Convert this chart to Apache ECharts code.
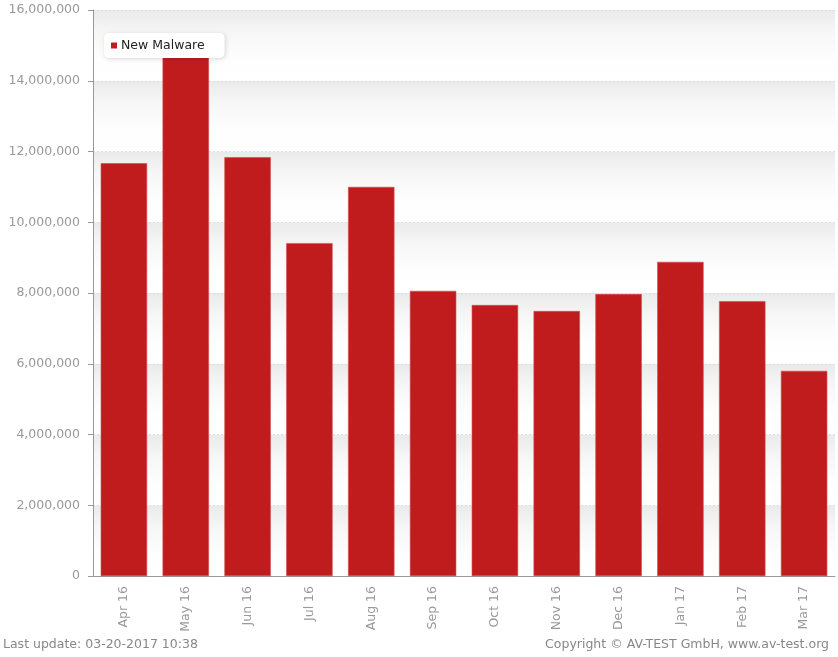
<!DOCTYPE html>
<html>
<head>
<meta charset="utf-8">
<script src="https://cdn.jsdelivr.net/npm/echarts@6/dist/echarts.min.js"></script>
<style>
html,body{margin:0;padding:0;background:#fff;}
#c{width:838px;height:657px;}
</style>
</head>
<body>
<div id="c"></div>
<script>
const categories = ["Apr 16","May 16","Jun 16","Jul 16","Aug 16","Sep 16","Oct 16","Nov 16","Dec 16","Jan 17","Feb 17","Mar 17"];
const newMalware = [11670000,14670000,11840000,9410000,11000000,8060000,7660000,7490000,7970000,8880000,7770000,5800000];
const seriesName = "New Malware";
const footerLeft = "Last update: 03-20-2017 10:38";
const footerRight = "Copyright \u00A9 AV-TEST GmbH, www.av-test.org";

const chart = echarts.init(document.getElementById('c'));
const band = new echarts.graphic.LinearGradient(0,0,0,1,[
  {offset:0,color:'#eaeaea'},{offset:0.3,color:'#f6f6f6'},{offset:0.7,color:'#fefefe'},{offset:1,color:'#ffffff'}
]);
chart.setOption({
  animation:false,
  textStyle:{fontFamily:'DejaVu Sans'},
  grid:{left:93,top:10,right:3,bottom:81,containLabel:false},
  legend:{
    left:104, top:33, orient:'horizontal',
    data:[seriesName],
    icon:'rect', itemWidth:6, itemHeight:6, itemGap:5,
    itemStyle:{borderWidth:0, color:'#c11c1d'},
    backgroundColor:'#fff', borderRadius:5,
    padding:[6,20,6,7],
    shadowColor:'rgba(0,0,0,0.15)', shadowBlur:4, shadowOffsetX:1, shadowOffsetY:1,
    textStyle:{color:'#222', fontSize:12.5, fontFamily:'DejaVu Sans', padding:[0,0,0,-1]}
  },
  xAxis:{
    type:'category', data:categories,
    axisLine:{lineStyle:{color:'#999'}},
    axisTick:{alignWithLabel:true, length:5, lineStyle:{color:'#999'}},
    axisLabel:{rotate:90, color:'#999', fontSize:12.5, margin:10}
  },
  yAxis:{
    type:'value', min:0, max:16000000, interval:2000000,
    axisLine:{show:true, lineStyle:{color:'#999'}},
    axisTick:{show:true, length:5, lineStyle:{color:'#999'}},
    axisLabel:{color:'#999', fontSize:12.5, margin:13,
      formatter:v=>v.toLocaleString('en-US')},
    splitLine:{show:true, lineStyle:{color:'#dedede', type:[2,2]}},
    splitArea:{show:true, areaStyle:{color:[band]}}
  },
  series:[{
    name:seriesName, type:'bar', data:newMalware,
    barCategoryGap:'25%',
    itemStyle:{color:'#c11c1d', borderColor:'#d2484a', borderWidth:0.6}
  }],
  graphic:[
    {type:'text', left:3, top:638, style:{text:footerLeft, fill:'#888', font:'12.5px "DejaVu Sans"'}},
    {type:'text', right:9, top:638, style:{text:footerRight, fill:'#888', font:'12.5px "DejaVu Sans"'}}
  ]
});
</script>
</body>
</html>
